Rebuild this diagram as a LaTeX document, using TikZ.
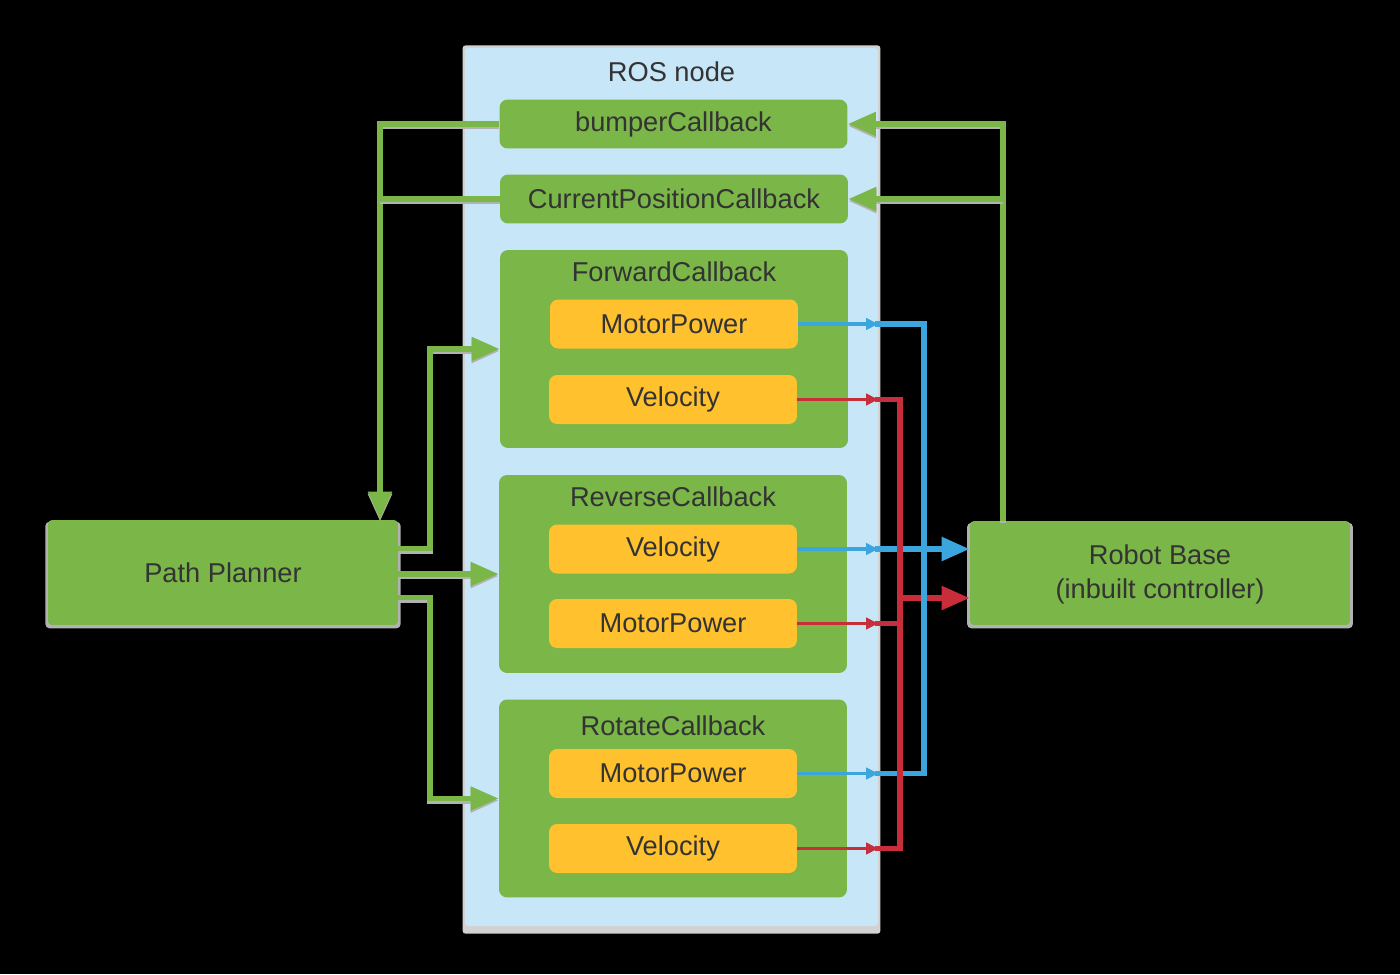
\documentclass[tikz,border=0pt]{standalone}
\usepackage{fontspec}
\setmainfont{Liberation Sans}
\usetikzlibrary{positioning,shadows,arrows.meta}
\definecolor{lgreen}{HTML}{7AB648}
\definecolor{lyellow}{HTML}{FFC12E}
\definecolor{lblue}{HTML}{C7E6F7}
\definecolor{wireblue}{HTML}{3AA6DD}
\definecolor{wirered}{HTML}{C92D39}
\definecolor{txt}{HTML}{333333}

\begin{document}
\begin{tikzpicture}[x=0.02cm, y=-0.02cm,
    >={Triangle[length=16pt,width=13pt]},
    every node/.style={text=txt, font=\fontsize{15.5}{19}\selectfont},
    rosbox/.style={rectangle, fill=lblue, rounded corners=0.6mm,
        minimum width=8.26cm, minimum height=17.56cm,
        drop shadow={shadow xshift=0pt, shadow yshift=-0.05cm, shadow scale=1.012, fill=gray!35, opacity=1}},
    callback/.style={rectangle, fill=lgreen, rounded corners=1.6mm,
        minimum width=6.96cm, minimum height=0.98cm, inner sep=0pt},
    group/.style={rectangle, fill=lgreen, rounded corners=1.6mm,
        minimum width=6.96cm, minimum height=3.96cm, inner sep=0pt},
    signal/.style={rectangle, fill=lyellow, rounded corners=1.6mm,
        minimum width=4.96cm, minimum height=0.98cm, inner sep=0pt},
    block/.style={rectangle, fill=lgreen, rounded corners=0.8mm,
        minimum height=2.1cm, align=center,
        drop shadow={shadow xshift=0pt, shadow yshift=-0.05cm, shadow scale=1.015, fill=gray!60, opacity=1}},
    gline/.style={draw=lgreen, line width=3.2pt,
        preaction={draw=gray!60, line width=3.6pt, transform canvas={yshift=-0.04cm}}},
    bthin/.style={draw=wireblue, line width=2.2pt, -{Triangle[length=7pt,width=6.5pt]}},
    rthin/.style={draw=wirered, line width=2.2pt, -{Triangle[length=7pt,width=6.5pt]}},
    bthick/.style={draw=wireblue, line width=3.4pt, line cap=rect},
    rthick/.style={draw=wirered, line width=3.4pt, line cap=rect}
]
\fill[black] (0,0) rectangle (1400,974);

% ROS node and its callbacks
\node (ros) [rosbox] at (671.5,487) {};
\node (rostitle) at ([yshift=-0.48cm]ros.north) {ROS node};
\node (bump) [callback] at (673.5,124) {bumperCallback};
\node (curpos) [callback] at (674,199) {CurrentPositionCallback};

\node (fwd) [group] at (674,349) {};
\node (fwdtitle) at ([yshift=-0.44cm]fwd.north) {ForwardCallback};
\node (fwdmp) [signal] at (674,324) {MotorPower};
\node (fwdvel) [signal] at (673,399.5) {Velocity};

\node (rev) [group] at (673,574) {};
\node (revtitle) at ([yshift=-0.44cm]rev.north) {ReverseCallback};
\node (revvel) [signal] at (673,549) {Velocity};
\node (revmp) [signal] at (673,623.5) {MotorPower};

\node (rot) [group] at (673,798.5) {};
\node (rottitle) at ([yshift=-0.54cm]rot.north) {RotateCallback};
\node (rotmp) [signal] at (673,773.5) {MotorPower};
\node (rotvel) [signal] at (673,848.5) {Velocity};

% outside blocks
\node (planner) [block, minimum width=7cm] at (223,572.5) {Path Planner};
\node (robot) [block, minimum width=7.6cm, minimum height=2.08cm] at (1160,573) {\rule{0pt}{13pt}Robot Base\\(inbuilt controller)};

% bus lines
\coordinate (lbus) at (380,0);
\coordinate (gbus) at (430,0);
\coordinate (rbus) at (1003,0);
\coordinate (bbus) at (924,0);
\coordinate (rdbus) at (900,0);

% green connectors
\draw[gline,->] (bump.west) -| (planner.north -| lbus);
\draw[gline] (curpos.west) -- (curpos.west -| lbus);
\draw[gline,->] (robot.north -| rbus) |- (bump.east);
\draw[gline,->] (curpos.east -| rbus) -- (curpos.east);
\draw[gline,->] ([yshift=0.48cm]planner.east) -| (gbus |- fwd.west) -- (fwd.west);
\draw[gline,->] (planner.east |- rev.west) -- (rev.west);
\draw[gline,->] ([yshift=-0.5cm]planner.east) -| (gbus |- rot.west) -- (rot.west);

% signals to the robot base
\foreach \s in {fwdmp,revvel,rotmp}
    \draw[bthin] (\s.east) -- (\s.east -| ros.east);
\foreach \s in {fwdvel,revmp,rotvel}
    \draw[rthin] (\s.east) -- (\s.east -| ros.east);

\draw[bthick,->] (revvel.east -| ros.east) -- (revvel.east -| robot.west);
\draw[bthick] (rotmp.east -| ros.east) -- (rotmp.east -| bbus);
\draw[rthick] (fwdvel.east -| ros.east) -| (rdbus |- rotvel.east) -- (rotvel.east -| ros.east);
\draw[rthick] (revmp.east -| ros.east) -- (revmp.east -| rdbus);
\draw[rthick,->] ([yshift=-0.5cm]robot.west -| rdbus) -- ([yshift=-0.5cm]robot.west);
\draw[bthick] (fwdmp.east -| ros.east) -| (bbus |- rotmp.east);
\end{tikzpicture}
\end{document}
